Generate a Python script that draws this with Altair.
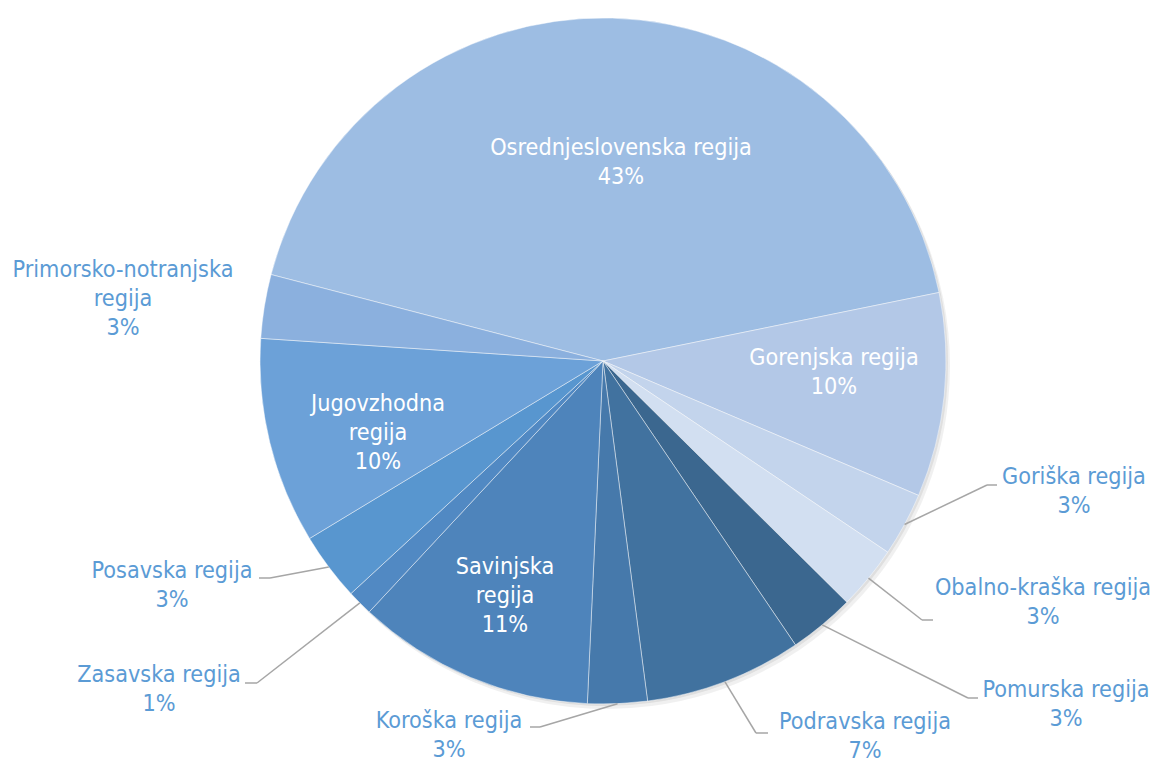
import math
import altair as alt
import pandas as pd

# ---- data ----
regions = ["Osrednjeslovenska regija", "Gorenjska regija", "Goriška regija",
           "Obalno-kraška regija", "Pomurska regija", "Podravska regija",
           "Koroška regija", "Savinjska regija", "Zasavska regija",
           "Posavska regija", "Jugovzhodna regija", "Primorsko-notranjska regija"]
shares = [42.7, 9.6, 3.0, 3.0, 3.1, 7.4, 2.8, 11.2, 1.2, 3.2, 9.7, 3.0]
label_names = ["Osrednjeslovenska regija", "Gorenjska regija", "Goriška regija",
               "Obalno-kraška regija", "Pomurska regija", "Podravska regija",
               "Koroška regija", "Savinjska|regija", "Zasavska regija",
               "Posavska regija", "Jugovzhodna|regija", "Primorsko-notranjska|regija"]

# ---- styles / layout ----
colors = ["#9DBDE3", "#B3C8E7", "#C3D4EC", "#D2DFF1", "#3B678F", "#41729F",
          "#4679AB", "#4E84BB", "#5189C3", "#5896CF", "#6CA1D8", "#8BB0DE"]
inside = [True, True, False, False, False, False, False, True, False, False, True, False]
# first text line centre, relative to pie centre (px, y downward)
label_dx = [18, 231, 471, 440, 463, 262, -154, -98, -444, -431, -225, -480]
label_dy = [-213, -3, 116, 227, 329, 361, 360, 206, 314, 210, 43, -91]
# leader line elbow and horizontal end
has_line = [False, False, True, True, True, True, True, False, True, True, False, False]
elbow_dx = [0, 0, 384, 319, 365, 153, -63, 0, -346, -333, 0, 0]
elbow_dy = [0, 0, 124, 259, 337, 372, 366, 0, 322, 217, 0, 0]
hend_dx = [0, 0, 394, 330, 375, 165, -73, 0, -358, -344, 0, 0]

R = 343
START = math.radians(284.6)
FONT = "DejaVu Sans Condensed"
FS = 23.2
LH = 29

df = pd.DataFrame({
    "idx": list(range(len(regions))),
    "region": regions,
    "value": shares,
    "name": label_names,
    "inside": inside,
    "lx": label_dx, "ly": label_dy,
    "has_line": has_line,
    "kx": elbow_dx, "ky": elbow_dy, "hx": hend_dx,
})

xs = alt.Scale(domain=[-R, R], nice=False, zero=False)
ys = alt.Scale(domain=[-R, R], nice=False, zero=False, reverse=True)

base = alt.Chart(df).transform_joinaggregate(
    total="sum(value)"
).transform_window(
    cum="sum(value)", sort=[alt.SortField("idx")]
).transform_calculate(
    mid=f"{START} + 2*PI*(datum.cum - datum.value/2)/datum.total",
    label="datum.name + '|' + format(datum.value/datum.total, '.0%')",
).transform_calculate(
    ex=f"{R}*sin(datum.mid)",
    ey=f"-{R}*cos(datum.mid)",
)

theta_enc = alt.Theta("value:Q", stack=True,
                      scale=alt.Scale(range=[START, START + 2 * math.pi]))

shadow1 = alt.Chart(df).mark_arc(fill="#000000", opacity=0.06, xOffset=4, yOffset=5).encode(
    theta=theta_enc, order=alt.Order("idx:Q"))
shadow2 = alt.Chart(df).mark_arc(fill="#000000", opacity=0.07, xOffset=2, yOffset=2).encode(
    theta=theta_enc, order=alt.Order("idx:Q"))

pie = alt.Chart(df).mark_arc(stroke="#ffffff", strokeWidth=1, strokeOpacity=0.45).encode(
    theta=theta_enc,
    color=alt.Color("region:N", scale=alt.Scale(domain=regions, range=colors), legend=None),
    order=alt.Order("idx:Q"),
)

lines_a = base.transform_filter("datum.has_line").mark_rule(
    color="#A6A6A6", strokeWidth=1.5
).encode(
    x=alt.X("ex:Q", scale=xs, axis=None), y=alt.Y("ey:Q", scale=ys, axis=None),
    x2="kx:Q", y2="ky:Q",
)
lines_b = base.transform_filter("datum.has_line").mark_rule(
    color="#A6A6A6", strokeWidth=1.5
).encode(
    x=alt.X("kx:Q", scale=xs, axis=None), y=alt.Y("ky:Q", scale=ys, axis=None),
    x2="hx:Q", y2="ky:Q",
)

txt_in = base.transform_filter("datum.inside").mark_text(
    font=FONT, fontSize=FS, color="#FFFFFF", lineBreak="|", lineHeight=LH,
    align="center", baseline="middle",
).encode(
    x=alt.X("lx:Q", scale=xs, axis=None), y=alt.Y("ly:Q", scale=ys, axis=None),
    text="label:N",
)
txt_out = base.transform_filter("!datum.inside").mark_text(
    font=FONT, fontSize=FS, color="#5B9BD5", lineBreak="|", lineHeight=LH,
    align="center", baseline="middle",
).encode(
    x=alt.X("lx:Q", scale=xs, axis=None), y=alt.Y("ly:Q", scale=ys, axis=None),
    text="label:N",
)

chart = alt.layer(shadow1, shadow2, pie, lines_a, lines_b, txt_in, txt_out).properties(
    width=2 * R, height=2 * R,
    autosize=alt.AutoSizeParams(type="none"),
    padding={"left": 252, "top": 10, "right": 207, "bottom": 62},
).configure_view(stroke=None)

chart.save("out.html", embed_options={"renderer": "svg", "actions": False})
